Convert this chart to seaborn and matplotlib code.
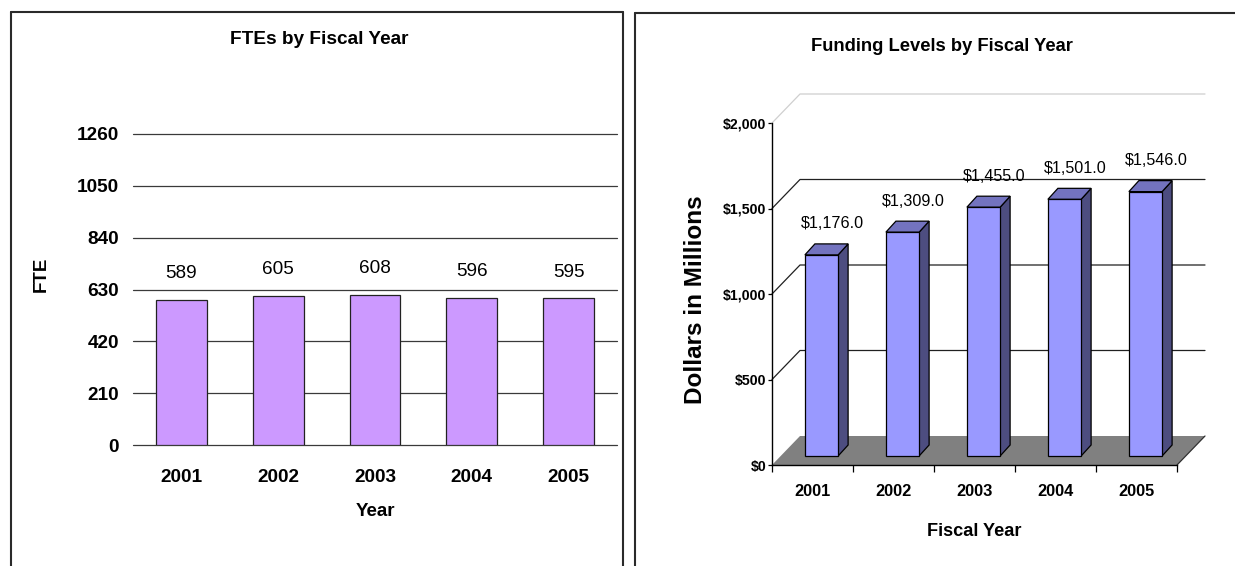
import numpy as np
import pandas as pd
import matplotlib
matplotlib.use("Agg")
import matplotlib.pyplot as plt
import matplotlib.font_manager as fm
import matplotlib.transforms as mtransforms
from matplotlib.patches import Polygon, Rectangle
from matplotlib.lines import Line2D
from matplotlib.ticker import FuncFormatter
import seaborn as sns

# ---------------- data ----------------
years = ["2001", "2002", "2003", "2004", "2005"]
fte_values = [589, 605, 608, 596, 595]
fte_ticks = [0, 210, 420, 630, 840, 1050, 1260]
funding_values = [1176.0, 1309.0, 1455.0, 1501.0, 1546.0]
funding_ticks = [0, 500, 1000, 1500, 2000]

left_title = "FTEs by Fiscal Year"
left_xlabel = "Year"
left_ylabel = "FTE"
right_title = "Funding Levels by Fiscal Year"
right_xlabel = "Fiscal Year"
right_ylabel = "Dollars in Millions"

# ---------------- style ----------------
sns.set_style("white")


def has_font(name):
    try:
        fm.findfont(fm.FontProperties(family=name), fallback_to_default=False)
        return True
    except Exception:
        return False


plt.rcParams["font.family"] = ["Liberation Sans", "DejaVu Sans"]
plt.rcParams["text.color"] = "black"
plt.rcParams["axes.labelcolor"] = "black"
plt.rcParams["xtick.color"] = "black"
plt.rcParams["ytick.color"] = "black"
if has_font("Liberation Sans Narrow"):
    NARROW = ["Liberation Sans Narrow", "Liberation Sans", "DejaVu Sans"]
    NS = 1.0
else:
    NARROW = ["Liberation Sans", "DejaVu Sans"]
    NS = 0.84

W, H = 1235, 566
fig = plt.figure(figsize=(W / 100, H / 100), dpi=100)
fig.patch.set_facecolor("white")

# panel borders
border_kw = dict(color="#2a2a2a", lw=1.5, transform=fig.transFigure, clip_on=False)
fig.add_artist(Line2D([11 / W, 11 / W], [1 - 12 / H, -0.05], **border_kw))
fig.add_artist(Line2D([11 / W, 623 / W], [1 - 12 / H, 1 - 12 / H], **border_kw))
fig.add_artist(Line2D([623 / W, 623 / W], [1 - 12 / H, -0.05], **border_kw))
fig.add_artist(Line2D([635 / W, 635 / W], [1 - 13 / H, -0.05], **border_kw))
fig.add_artist(Line2D([635 / W, 1.05], [1 - 13 / H, 1 - 13 / H], **border_kw))

# ================= LEFT: FTEs =================
ax1 = fig.add_axes([133 / W, 1 - 445 / H, 484 / W, 311 / H])
df1 = pd.DataFrame({"Year": years, "FTE": fte_values})
sns.barplot(data=df1, x="Year", y="FTE", order=years, color="#CC99FF",
            saturation=1, width=0.526, edgecolor="#222222", linewidth=0.9,
            ax=ax1, zorder=3)
ax1.set_xlim(-0.5, len(years) - 0.5)
ax1.set_ylim(0, 1260)
ax1.set_yticks(fte_ticks)
ax1.yaxis.grid(True, color="#3a3a3a", lw=0.9)
ax1.xaxis.grid(False)
ax1.set_axisbelow(True)
for gl in ax1.get_ygridlines():
    gl.set_clip_on(False)
for s in ax1.spines.values():
    s.set_visible(False)
ax1.tick_params(axis="y", length=0, pad=10, labelsize=13.7)
ax1.tick_params(axis="x", length=0, pad=17, labelsize=13.7)
for lab in ax1.get_xticklabels() + ax1.get_yticklabels():
    lab.set_fontweight("bold")
for i, v in enumerate(fte_values):
    ax1.annotate(f"{v}", xy=(i, v), xytext=(0, 26), textcoords="offset pixels",
                 ha="center", va="center", fontsize=13.7, color="black")
ax1.set_xlabel(left_xlabel, fontsize=13.5, fontweight="bold", va="center")
ax1.xaxis.set_label_coords(0.5, (445 - 512) / 311)
ax1.set_ylabel(left_ylabel, fontsize=13.5, fontweight="bold", va="center")
ax1.yaxis.set_label_coords((41 - 133) / 484, (445 - 274) / 311)
ax1.set_title(left_title, fontsize=13.7, fontweight="bold", pad=0,
              x=(319 - 133) / 484, y=1 + (134 - 40) / 311, va="center")

# ================= RIGHT: Funding (pseudo 3-D) =================
ax2 = fig.add_axes([772 / W, 1 - 465 / H, 405 / W, 342 / H])
df2 = pd.DataFrame({"Year": years, "Funding": funding_values})
sns.barplot(data=df2, x="Year", y="Funding", order=years, color="#9999FF",
            saturation=1, width=0.41, edgecolor="black", linewidth=0.9,
            ax=ax2, zorder=5)
bars = [p for p in ax2.patches if isinstance(p, Rectangle)]
ax2.set_xlim(-0.5, len(years) - 0.5)
ax2.set_ylim(0, 2000)

sx = 405 / len(years)          # px per category
sy = 342 / 2000                # px per dollar (million)
DX, DY = 28 / sx, 29 / sy      # full depth of floor / walls in data units
BDX, BDY = 10 / sx, 11 / sy    # depth of each bar
bar_tr = mtransforms.offset_copy(ax2.transData, fig=fig, x=9, y=9, units="dots")

x0, x1 = -0.5, len(years) - 0.5
# floor
ax2.add_patch(Polygon([(x0, 0), (x1, 0), (x1 + DX, DY), (x0 + DX, DY)],
                      closed=True, facecolor="#808080", edgecolor="none",
                      zorder=1, clip_on=False))
ax2.add_line(Line2D([x1, x1 + DX], [0, DY], color="#303030", lw=0.9,
                    zorder=2, clip_on=False))
# wall gridlines
for t in funding_ticks[1:]:
    col = "#cfcfcf" if t == funding_ticks[-1] else "#202020"
    ax2.add_line(Line2D([x0, x0 + DX, x1 + DX], [t, t + DY, t + DY],
                        color=col, lw=0.9, zorder=1, clip_on=False))

# 3-D faces of bars, built from seaborn's bar patches
for p in bars:
    p.set_transform(bar_tr)
    p.set_clip_on(False)
    bx0 = p.get_x()
    bx1 = bx0 + p.get_width()
    h = p.get_height()
    side = Polygon([(bx1, 0), (bx1 + BDX, BDY), (bx1 + BDX, h + BDY), (bx1, h)],
                   closed=True, facecolor="#4D4D80", edgecolor="black", lw=0.9,
                   transform=bar_tr, zorder=4, clip_on=False)
    top = Polygon([(bx0, h), (bx1, h), (bx1 + BDX, h + BDY), (bx0 + BDX, h + BDY)],
                  closed=True, facecolor="#7373BF", edgecolor="black", lw=0.9,
                  transform=bar_tr, zorder=4, clip_on=False)
    ax2.add_patch(side)
    ax2.add_patch(top)

for i, v in enumerate(funding_values):
    ax2.annotate(f"${v:,.1f}", xy=(i, v), xytext=(20, 40),
                 textcoords="offset pixels", ha="center", va="center",
                 fontsize=11.6 if NS < 1 else 13, family=NARROW, color="black",
                 zorder=6)

for s in ["top", "right"]:
    ax2.spines[s].set_visible(False)
for s in ["left", "bottom"]:
    ax2.spines[s].set_color("black")
    ax2.spines[s].set_linewidth(1.0)
    ax2.spines[s].set_zorder(3)
ax2.grid(False)
ax2.set_yticks(funding_ticks)
ax2.yaxis.set_major_formatter(FuncFormatter(lambda v, pos: f"${v:,.0f}"))
ax2.set_xticks(range(len(years)))
ax2.set_xticks(np.arange(len(years) + 1) - 0.5, minor=True)
ax2.tick_params(axis="y", which="major", length=3, width=0.9, direction="out",
                pad=1, labelsize=10.2 if NS < 1 else 11, left=True)
ax2.tick_params(axis="x", which="major", length=0, pad=14,
                labelsize=11.8 if NS < 1 else 12.6)
ax2.tick_params(axis="x", which="minor", length=5, width=0.9, direction="out",
                bottom=True)
for lab in ax2.get_xticklabels() + ax2.get_yticklabels():
    lab.set_fontweight("bold")
    lab.set_family(NARROW)

ax2.set_xlabel(right_xlabel, fontsize=15.5 * NS, fontweight="bold",
               family=NARROW, va="center")
ax2.xaxis.set_label_coords(0.5, (465 - 531) / 342)
ax2.set_ylabel(right_ylabel, fontsize=17.5, fontweight="bold", va="center")
ax2.yaxis.set_label_coords((696 - 772) / 405, (465 - 300) / 342)
ax2.set_title(right_title, fontsize=15.7 * NS, fontweight="bold", family=NARROW,
              pad=0, x=(942 - 772) / 405, y=1 + (123 - 47) / 342, va="center")

fig.savefig("out.png", dpi=100, facecolor="white")
